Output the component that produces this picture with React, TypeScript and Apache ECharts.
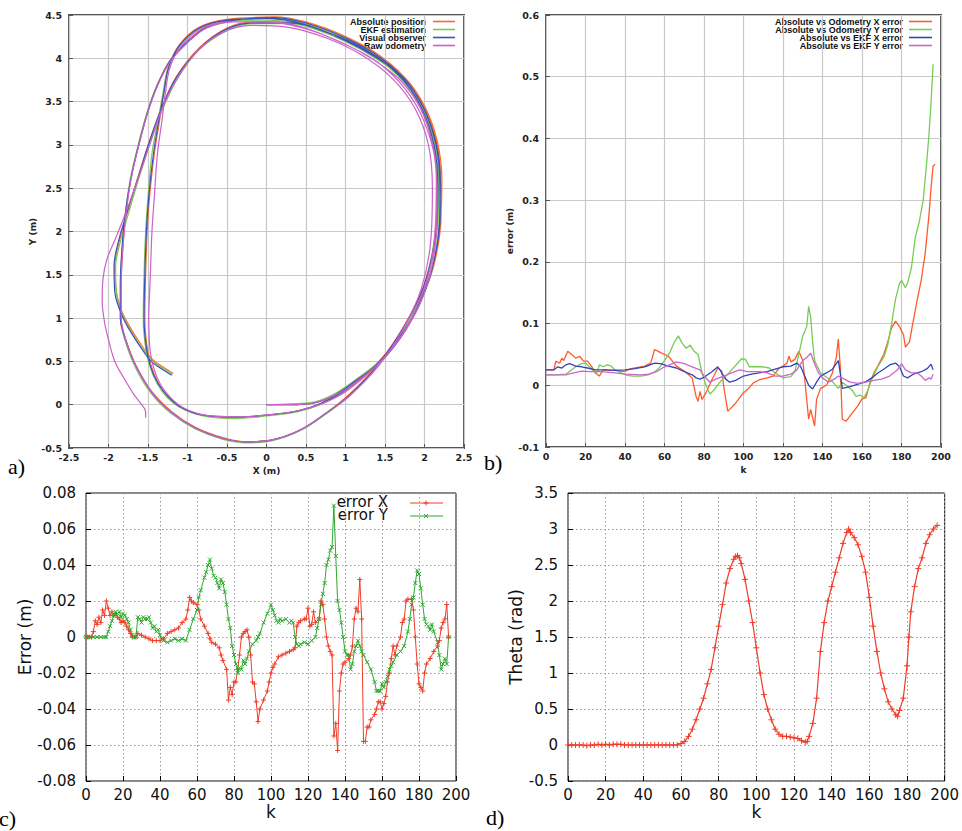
import React, { useEffect, useRef } from "react";
import * as echarts from "echarts";

// ---------- Panel a: trajectories (X, Y in m) ----------
const absolutePosition: number[][] = [
  [0,0],[0.3,0],[0.6,0.02],[0.85,0.1],[1.1,0.26],[1.45,0.5],[1.75,0.85],[1.97,1.25],[2.12,1.65],[2.2,2.1],[2.22,2.6],[2.16,3.05],[2.0,3.45],[1.75,3.78],[1.4,4.02],[1.0,4.22],[0.5,4.4],[0.0,4.47],[-0.5,4.45],[-0.85,4.36],[-1.1,4.16],[-1.24,3.9],[-1.3,3.6],[-1.35,3.3],[-1.42,2.9],[-1.48,2.4],[-1.51,2.0],[-1.53,1.5],[-1.54,1.0],[-1.5,0.6],[-1.42,0.35],[-1.3,0.15],[-1.1,-0.02],[-0.8,-0.12],[-0.4,-0.15],[0.0,-0.12],[0.4,-0.07],[0.7,0.02],
  [1.0,0.18],[1.38,0.46],[1.72,0.84],[1.96,1.22],[2.13,1.65],[2.21,2.2],[2.19,2.8],[2.06,3.3],[1.82,3.7],[1.45,4.02],[1.0,4.25],[0.5,4.42],[0.1,4.48],[-0.4,4.45],[-0.75,4.37],[-1.0,4.2],[-1.22,3.98],[-1.38,3.7],[-1.5,3.4],[-1.62,3.0],[-1.72,2.6],[-1.78,2.2],[-1.82,1.8],[-1.84,1.4],[-1.84,1.0],[-1.78,0.75],[-1.65,0.45],[-1.45,0.15],[-1.2,-0.08],[-0.9,-0.26],[-0.55,-0.38],[-0.25,-0.43],[0.1,-0.4],[0.45,-0.28],[0.75,-0.1],
  [1.05,0.12],[1.42,0.48],[1.76,0.94],[2.0,1.4],[2.14,1.95],[2.18,2.5],[2.13,3.0],[1.96,3.45],[1.68,3.82],[1.28,4.1],[0.8,4.3],[0.3,4.42],[-0.17,4.42],[-0.5,4.35],[-0.84,4.13],[-1.14,3.79],[-1.32,3.45],[-1.48,3.05],[-1.62,2.65],[-1.75,2.25],[-1.86,1.9],[-1.92,1.6],[-1.9,1.3],[-1.84,1.1],[-1.75,0.93],[-1.6,0.71],[-1.44,0.52],[-1.3,0.43],[-1.18,0.36]
];
const ekfEstimation: number[][] = [
  [0,0],[0.3,0.01],[0.6,0.03],[0.85,0.12],[1.1,0.27],[1.45,0.52],[1.75,0.86],[1.96,1.26],[2.1,1.68],[2.17,2.12],[2.18,2.6],[2.12,3.05],[1.97,3.44],[1.72,3.76],[1.38,4.0],[0.98,4.2],[0.48,4.38],[0.0,4.44],[-0.5,4.43],[-0.86,4.34],[-1.1,4.14],[-1.25,3.88],[-1.31,3.6],[-1.37,3.3],[-1.45,2.9],[-1.5,2.4],[-1.53,2.0],[-1.55,1.5],[-1.56,1.0],[-1.52,0.6],[-1.44,0.35],[-1.31,0.14],[-1.1,-0.03],[-0.8,-0.13],[-0.4,-0.16],[0.0,-0.13],[0.4,-0.08],[0.7,0.01],
  [1.0,0.16],[1.4,0.46],[1.72,0.82],[1.96,1.2],[2.12,1.66],[2.19,2.2],[2.17,2.8],[2.04,3.3],[1.8,3.68],[1.43,4.0],[0.98,4.23],[0.48,4.4],[0.08,4.46],[-0.42,4.43],[-0.76,4.35],[-1.01,4.18],[-1.23,3.96],[-1.39,3.68],[-1.51,3.38],[-1.63,2.98],[-1.73,2.58],[-1.79,2.18],[-1.83,1.78],[-1.85,1.38],[-1.85,1.0],[-1.79,0.74],[-1.66,0.43],[-1.46,0.13],[-1.21,-0.1],[-0.9,-0.28],[-0.55,-0.4],[-0.25,-0.44],[0.1,-0.41],[0.45,-0.29],[0.75,-0.11],
  [1.05,0.1],[1.42,0.45],[1.76,0.9],[2.0,1.38],[2.13,1.95],[2.16,2.5],[2.11,3.0],[1.94,3.44],[1.66,3.8],[1.26,4.08],[0.78,4.28],[0.28,4.4],[-0.18,4.4],[-0.5,4.32],[-0.85,4.1],[-1.13,3.76],[-1.31,3.42],[-1.47,3.03],[-1.61,2.63],[-1.74,2.23],[-1.85,1.88],[-1.91,1.6],[-1.9,1.3],[-1.85,1.1],[-1.76,0.92],[-1.61,0.7],[-1.45,0.51],[-1.31,0.42],[-1.19,0.35]
];
const visualObserver: number[][] = [
  [0,0],[0.3,0],[0.6,0.02],[0.86,0.11],[1.12,0.27],[1.46,0.51],[1.76,0.86],[1.97,1.25],[2.12,1.66],[2.19,2.1],[2.2,2.6],[2.14,3.04],[1.98,3.44],[1.74,3.77],[1.39,4.01],[0.99,4.21],[0.49,4.39],[0.0,4.46],[-0.5,4.44],[-0.85,4.35],[-1.1,4.15],[-1.24,3.89],[-1.3,3.6],[-1.36,3.3],[-1.43,2.9],[-1.49,2.4],[-1.52,2.0],[-1.54,1.5],[-1.55,1.0],[-1.51,0.6],[-1.43,0.35],[-1.3,0.15],[-1.1,-0.02],[-0.8,-0.12],[-0.4,-0.14],[0.0,-0.12],[0.4,-0.07],[0.7,0.02],
  [1.0,0.17],[1.39,0.46],[1.73,0.84],[1.96,1.21],[2.12,1.66],[2.2,2.2],[2.18,2.8],[2.05,3.3],[1.81,3.69],[1.44,4.01],[0.99,4.24],[0.49,4.41],[0.09,4.47],[-0.41,4.44],[-0.75,4.36],[-1.0,4.19],[-1.22,3.97],[-1.38,3.69],[-1.5,3.39],[-1.62,2.99],[-1.72,2.59],[-1.79,2.19],[-1.83,1.79],[-1.85,1.39],[-1.85,1.0],[-1.78,0.74],[-1.65,0.44],[-1.45,0.14],[-1.2,-0.09],[-0.9,-0.27],[-0.55,-0.39],[-0.25,-0.43],[0.1,-0.4],[0.45,-0.28],[0.75,-0.1],
  [1.05,0.11],[1.42,0.47],[1.76,0.93],[2.0,1.39],[2.14,1.95],[2.17,2.5],[2.12,3.0],[1.95,3.45],[1.67,3.81],[1.27,4.09],[0.79,4.29],[0.29,4.41],[-0.17,4.41],[-0.5,4.34],[-0.84,4.12],[-1.14,3.78],[-1.32,3.44],[-1.48,3.04],[-1.62,2.64],[-1.76,2.24],[-1.87,1.9],[-1.93,1.6],[-1.92,1.3],[-1.86,1.1],[-1.77,0.92],[-1.62,0.7],[-1.46,0.5],[-1.32,0.41],[-1.2,0.34]
];
const rawOdometry: number[][] = [
  [0,0],[0.3,0],[0.6,0.02],[0.85,0.1],[1.1,0.24],[1.44,0.49],[1.73,0.83],[1.94,1.21],[2.08,1.62],[2.14,2.1],[2.15,2.6],[2.1,3.02],[1.95,3.42],[1.7,3.74],[1.36,3.98],[0.96,4.18],[0.46,4.35],[0.0,4.42],[-0.5,4.42],[-0.85,4.33],[-1.08,4.14],[-1.22,3.9],[-1.28,3.6],[-1.32,3.3],[-1.38,2.9],[-1.42,2.4],[-1.45,2.0],[-1.47,1.5],[-1.49,1.0],[-1.47,0.6],[-1.4,0.35],[-1.28,0.15],[-1.08,-0.02],[-0.78,-0.12],[-0.4,-0.14],[0.0,-0.12],[0.4,-0.07],[0.7,0.01],
  [1.0,0.15],[1.38,0.44],[1.7,0.78],[1.94,1.16],[2.1,1.62],[2.16,2.2],[2.14,2.78],[2.0,3.26],[1.76,3.64],[1.4,3.96],[0.95,4.18],[0.45,4.36],[0.05,4.42],[-0.42,4.42],[-0.76,4.35],[-1.0,4.18],[-1.22,3.96],[-1.38,3.68],[-1.5,3.38],[-1.62,2.98],[-1.72,2.58],[-1.78,2.18],[-1.82,1.78],[-1.84,1.38],[-1.84,1.0],[-1.78,0.74],[-1.65,0.44],[-1.45,0.14],[-1.2,-0.09],[-0.9,-0.27],[-0.55,-0.39],[-0.25,-0.43],[0.1,-0.4],[0.45,-0.28],[0.75,-0.1],
  [1.05,0.1],[1.4,0.43],[1.72,0.86],[1.96,1.34],[2.08,1.9],[2.1,2.5],[2.05,3.0],[1.88,3.42],[1.6,3.76],[1.2,4.04],[0.74,4.24],[0.26,4.36],[-0.2,4.38],[-0.55,4.3],[-0.88,4.08],[-1.15,3.74],[-1.33,3.4],[-1.48,3.0],[-1.63,2.6],[-1.78,2.22],[-1.92,1.9],[-2.02,1.68],[-2.07,1.45],[-2.08,1.2],[-2.05,0.95],[-2.0,0.75],[-1.92,0.5],[-1.8,0.3],[-1.68,0.12],[-1.58,0.0],[-1.53,-0.08],[-1.53,-0.15]
];

// ---------- Panel b: errors vs k ----------
const odoXError: number[][] = [
  [0,0.025],[4,0.025],[5,0.039],[7,0.036],[8,0.044],[9,0.04],[11,0.055],[13,0.05],[15,0.044],[17,0.047],[19,0.039],[21,0.039],[23,0.031],[25,0.02],[27,0.015],[29,0.025],[32,0.024],[35,0.025],[38,0.022],[40,0.023],[43,0.027],[45,0.028],[48,0.03],[50,0.031],[53,0.036],[55,0.058],[58,0.053],[62,0.047],[66,0.031],[70,0.023],[74,0.012],[76,-0.018],[77,-0.026],[78,-0.01],[79,-0.023],[81,-0.012],[84,0.009],[87,0.028],[89,0.023],[90,-0.002],[92,-0.042],[93,-0.039],[96,-0.029],[100,-0.012],[102,-0.007],[105,0.004],[108,0.009],[112,0.012],[115,0.015],[118,0.028],[120,0.031],[122,0.036],[123,0.047],[124,0.038],[126,0.042],[128,0.055],[130,0.04],[131,0.01],[132,-0.023],[133,-0.055],[134,-0.039],[136,-0.066],[137,-0.023],[139,-0.005],[142,0.0],[145,0.02],[147,0.045],[148,0.075],[149,0.03],[150,-0.055],[152,-0.058],[155,-0.045],[158,-0.033],[160,-0.022],[162,-0.02],[164,0.004],[166,0.02],[168,0.031],[171,0.05],[173,0.07],[175,0.093],[177,0.104],[179,0.095],[181,0.082],[182,0.062],[184,0.07],[186,0.105],[188,0.139],[190,0.171],[192,0.214],[194,0.279],[195,0.322],[196,0.355],[197,0.358]
];
const odoYError: number[][] = [
  [0,0.017],[5,0.017],[10,0.018],[13,0.025],[15,0.03],[18,0.035],[20,0.036],[22,0.03],[25,0.02],[26,0.022],[27,0.033],[29,0.03],[31,0.033],[33,0.031],[35,0.025],[38,0.02],[41,0.016],[44,0.015],[48,0.015],[52,0.017],[55,0.022],[57,0.027],[60,0.04],[63,0.055],[65,0.07],[67,0.08],[69,0.068],[71,0.06],[73,0.065],[75,0.055],[77,0.05],[79,0.02],[81,0.0],[83,-0.014],[85,-0.008],[88,0.005],[92,0.018],[96,0.032],[99,0.043],[101,0.042],[103,0.03],[106,0.03],[110,0.03],[113,0.028],[116,0.02],[120,0.012],[124,0.014],[126,0.022],[128,0.05],[130,0.08],[132,0.095],[133,0.128],[134,0.11],[135,0.07],[136,0.04],[139,0.02],[142,0.013],[145,0.006],[148,-0.005],[150,0.005],[152,0.0],[155,-0.008],[157,-0.018],[159,-0.016],[161,-0.02],[163,-0.008],[165,0.01],[168,0.03],[171,0.045],[173,0.065],[175,0.1],[177,0.14],[179,0.165],[180,0.17],[182,0.158],[183,0.165],[185,0.19],[187,0.24],[189,0.265],[191,0.3],[193,0.37],[194,0.41],[195,0.46],[196,0.52]
];
const ekfXError: number[][] = [
  [0,0.025],[4,0.025],[6,0.03],[8,0.028],[10,0.033],[12,0.035],[15,0.031],[18,0.03],[21,0.028],[25,0.025],[30,0.025],[35,0.024],[40,0.025],[45,0.027],[50,0.03],[55,0.036],[58,0.035],[62,0.031],[66,0.028],[70,0.022],[74,0.017],[76,0.012],[78,0.01],[80,0.013],[84,0.022],[87,0.03],[89,0.02],[91,0.01],[93,0.005],[96,0.008],[100,0.015],[104,0.018],[108,0.02],[112,0.022],[116,0.026],[120,0.03],[124,0.031],[127,0.036],[129,0.03],[131,0.015],[133,0.0],[135,-0.006],[137,0.005],[139,0.015],[142,0.02],[145,0.026],[147,0.035],[148,0.04],[149,0.02],[150,-0.005],[154,-0.002],[158,0.002],[162,0.006],[165,0.012],[168,0.02],[171,0.026],[174,0.033],[177,0.036],[179,0.03],[181,0.015],[183,0.012],[186,0.018],[190,0.022],[193,0.027],[195,0.034],[196,0.025]
];
const ekfYError: number[][] = [
  [0,0.017],[10,0.017],[14,0.02],[18,0.023],[22,0.022],[28,0.022],[35,0.02],[40,0.018],[48,0.017],[52,0.018],[56,0.022],[60,0.03],[64,0.035],[66,0.038],[70,0.035],[74,0.03],[78,0.025],[80,0.015],[83,0.005],[86,0.01],[90,0.015],[94,0.02],[98,0.025],[102,0.022],[108,0.022],[112,0.02],[116,0.015],[120,0.015],[124,0.018],[127,0.025],[130,0.04],[132,0.045],[134,0.052],[136,0.035],[138,0.02],[140,0.012],[143,0.005],[146,0.01],[148,0.015],[151,0.01],[154,0.005],[158,0.003],[162,0.005],[166,0.008],[170,0.01],[174,0.015],[178,0.025],[180,0.035],[182,0.025],[185,0.02],[188,0.02],[190,0.015],[192,0.008],[194,0.012],[195,0.01],[196,0.018]
];

// ---------- Panel c: EKF error X / Y vs k ----------
const errorX: number[][] = [
  [0,0],[1,0],[2,0],[3,0],[4,0.003],[5,0.009],[6,0.007],[7,0.011],[8,0.008],[9,0.015],[10,0.012],[11,0.02],[12,0.016],[13,0.012],[14,0.014],[15,0.012],[16,0.013],[17,0.011],[18,0.01],[19,0.008],[20,0.009],[21,0.008],[22,0.006],[23,0.004],[24,0.002],[25,0],[26,0],[27,0],[28,0.002],[30,0.001],[32,0],[34,-0.001],[36,-0.002],[38,-0.002],[40,-0.002],[42,-0.001],[44,0.002],[46,0.003],[48,0.004],[50,0.005],[52,0.008],[54,0.01],[55,0.015],[56,0.022],[57,0.02],[58,0.019],[60,0.018],[61,0.015],[62,0.01],[64,0.006],[66,0.002],[67,-0.001],[68,-0.003],[70,-0.004],[72,-0.006],[73,-0.01],[74,-0.013],[76,-0.018],[77,-0.035],[78,-0.028],[79,-0.032],[80,-0.025],[81,-0.025],[82,-0.018],[83,-0.01],[84,0],[85,0.002],[86,0.003],[87,0.004],[88,0],[89,-0.01],[90,-0.025],[91,-0.026],[92,-0.036],[93,-0.047],[94,-0.04],[96,-0.035],[98,-0.03],[99,-0.025],[100,-0.02],[101,-0.017],[102,-0.015],[104,-0.011],[106,-0.01],[108,-0.009],[110,-0.008],[112,-0.007],[113,-0.006],[114,0.006],[115,0.008],[116,0.009],[118,0.01],[119,0.01],[120,0.016],[121,0.006],[122,0.007],[123,0.014],[124,0.008],[126,0.01],[127,0.02],[128,0.018],[129,0.01],[130,0],[131,-0.005],[132,-0.008],[133,-0.01],[134,-0.055],[135,-0.048],[136,-0.063],[137,-0.03],[138,-0.02],[139,-0.015],[140,-0.014],[142,-0.012],[143,-0.01],[144,-0.005],[145,0.01],[146,0.016],[147,0.014],[148,0.032],[149,0.01],[150,-0.058],[151,-0.058],[152,-0.05],[153,-0.05],[154,-0.046],[156,-0.043],[157,-0.04],[158,-0.036],[159,-0.036],[160,-0.04],[161,-0.037],[162,-0.033],[163,-0.025],[164,-0.02],[165,-0.012],[166,-0.005],[167,-0.01],[168,-0.005],[170,0],[171,0.008],[172,0.01],[173,0.02],[174,0.021],[176,0.021],[177,0.015],[178,0],[179,-0.015],[180,-0.026],[181,-0.028],[182,-0.03],[183,-0.02],[184,-0.015],[186,-0.012],[188,-0.008],[190,-0.005],[191,-0.002],[192,0.005],[193,0.008],[194,0.01],[195,0.018],[196,0]
];
const errorY: number[][] = [
  [0,0],[2,0],[4,0],[6,0],[8,0],[10,0],[11,0],[12,0.003],[13,0.006],[14,0.009],[15,0.012],[16,0.014],[17,0.013],[18,0.014],[19,0.011],[20,0.013],[21,0.012],[22,0.01],[23,0.008],[24,0.004],[25,0.001],[26,0],[27,0],[28,0.011],[29,0.01],[30,0.008],[31,0.011],[32,0.01],[33,0.01],[34,0.011],[35,0.008],[36,0.005],[37,0.006],[38,0.003],[39,0.004],[40,0.001],[41,-0.001],[42,-0.002],[44,-0.003],[46,-0.002],[48,-0.001],[50,-0.002],[52,-0.001],[54,-0.002],[56,0.004],[58,0.01],[60,0.015],[61,0.022],[62,0.026],[64,0.033],[65,0.036],[66,0.04],[67,0.043],[68,0.038],[69,0.034],[70,0.033],[71,0.03],[72,0.027],[73,0.032],[74,0.03],[75,0.025],[76,0.018],[77,0.01],[78,0.005],[79,-0.005],[80,-0.01],[81,-0.015],[82,-0.02],[83,-0.017],[84,-0.018],[85,-0.013],[86,-0.015],[87,-0.012],[88,-0.008],[90,-0.004],[92,-0.002],[93,0],[94,0.002],[96,0.008],[98,0.013],[100,0.018],[101,0.015],[102,0.012],[103,0.009],[104,0.008],[105,0.01],[106,0.009],[108,0.01],[110,0.008],[111,0.009],[112,0.008],[113,0],[114,-0.004],[115,-0.005],[116,-0.004],[118,-0.003],[120,-0.004],[122,-0.002],[124,0],[125,0.005],[126,0.01],[127,0.018],[128,0.024],[129,0.03],[130,0.04],[131,0.043],[132,0.048],[133,0.05],[134,0.073],[135,0.045],[136,0.02],[137,0.015],[138,0.008],[139,0],[140,-0.008],[141,-0.01],[142,-0.01],[143,-0.018],[144,-0.015],[145,-0.008],[146,-0.005],[147,-0.002],[148,-0.005],[149,-0.008],[150,-0.01],[152,-0.014],[154,-0.018],[156,-0.025],[157,-0.03],[158,-0.03],[159,-0.03],[160,-0.026],[161,-0.028],[162,-0.025],[163,-0.022],[164,-0.018],[165,-0.016],[166,-0.014],[168,-0.01],[170,-0.008],[172,-0.005],[174,0.003],[175,0.01],[176,0.018],[177,0.022],[178,0.03],[179,0.037],[180,0.035],[181,0.027],[182,0.018],[183,0.01],[184,0.007],[185,0.006],[186,0.004],[187,0.007],[188,0.003],[190,-0.003],[191,-0.01],[192,-0.018],[193,-0.015],[194,-0.012],[195,-0.015],[196,0]
];

// ---------- Panel d: Theta vs k ----------
const theta: number[][] = [
  [0,0],[2,0],[4,0],[6,0],[8,0],[10,-0.01],[12,0],[14,0],[16,0.01],[18,0],[20,0.01],[22,0],[24,0.01],[26,0.01],[28,0.01],[30,0],[32,0],[34,0],[36,0],[38,0],[40,0],[42,0],[44,0],[46,0],[48,0],[50,0],[52,0],[54,0],[56,0],[58,0],[60,0.02],[62,0.05],[64,0.12],[66,0.22],[68,0.35],[70,0.5],[72,0.65],[74,0.85],[76,1.05],[78,1.35],[80,1.65],[82,1.95],[84,2.25],[86,2.45],[88,2.58],[89,2.62],[90,2.63],[91,2.6],[92,2.52],[94,2.3],[96,2.0],[98,1.7],[100,1.35],[102,1.0],[104,0.7],[106,0.5],[108,0.35],[110,0.22],[112,0.15],[114,0.12],[116,0.12],[118,0.11],[120,0.1],[122,0.09],[124,0.06],[126,0.04],[127,0.05],[128,0.12],[130,0.3],[132,0.65],[134,1.3],[136,1.7],[138,2.0],[140,2.2],[142,2.4],[144,2.6],[146,2.8],[148,2.95],[149,3.0],[150,2.95],[152,2.88],[154,2.78],[156,2.62],[158,2.4],[160,2.05],[162,1.65],[164,1.3],[166,1.0],[168,0.78],[170,0.6],[172,0.5],[174,0.42],[175,0.4],[176,0.48],[178,0.65],[180,1.1],[181,1.5],[182,1.85],[184,2.2],[186,2.45],[188,2.6],[190,2.8],[192,2.92],[194,3.0],[196,3.05]
];

const legendA = ["Absolute position", "EKF estimation", "Visual observer", "Raw odometry"];
const legendB = ["Absolute vs Odometry X error", "Absolute vs Odometry Y error", "Absolute vs EKF X error", "Absolute vs EKF Y error"];
const legendC = ["error X", "error Y"];

const colorsA = ["#ff6a2a", "#7cc850", "#3a50c0", "#cc60cc"];
const colorsB = ["#ff5a2a", "#77cc55", "#3344bb", "#cc66cc"];
const RED = "#f03c28";
const GREEN = "#2fa82f";
const PLUS = "path://M0,5L10,5M5,0L5,10";
const CROSS = "path://M0,0L10,10M10,0L0,10";

const smallFont = "DejaVu Sans";
const bigFont = "DejaVu Sans";

function makeAxis(grid: number, min: number, max: number, interval: number, name: string, gap: number, big: boolean, labelMargin: number) {
  return {
    gridIndex: grid, type: "value", min, max, interval,
    name, nameLocation: "middle", nameGap: gap,
    nameTextStyle: big
      ? { fontSize: 17, color: "#111", fontFamily: bigFont }
      : { fontSize: 9, fontWeight: "bold", color: "#222", fontFamily: smallFont },
    axisLine: { show: false, onZero: false },
    axisTick: { show: true, inside: true, length: big ? 5 : 4, lineStyle: { color: big ? "#000" : "#555" } },
    axisLabel: big
      ? { fontSize: 15, color: "#111", fontFamily: bigFont, margin: labelMargin }
      : { fontSize: 9.5, fontWeight: "bold", color: "#222", fontFamily: smallFont, margin: labelMargin },
    splitLine: big
      ? { show: true, lineStyle: { color: "#9a9a9a", width: 1, type: [1.5, 2.5] } }
      : { show: true, lineStyle: { color: "#c8c8c8", width: 1.2 } },
  };
}

export default function App() {
  const ref = useRef<HTMLDivElement>(null);
  useEffect(() => {
    const chart = echarts.init(ref.current!, null, { renderer: "svg" });

    const xA = makeAxis(0, -2.5, 2.5, 0.5, "X (m)", 13, false, 4);
    const yA = makeAxis(0, -0.5, 4.5, 0.5, "Y (m)", 26, false, 7);
    const xB = makeAxis(1, 0, 200, 20, "k", 13, false, 4);
    const yB = makeAxis(1, -0.1, 0.6, 0.1, "error (m)", 26, false, 7);
    const xC = makeAxis(2, 0, 200, 20, "k", 22, true, 6);
    const yC = makeAxis(2, -0.08, 0.08, 0.02, "Error (m)", 50, true, 10);
    const xD = makeAxis(3, 0, 200, 20, "k", 22, true, 6);
    const yD = makeAxis(3, -0.5, 3.5, 0.5, "Theta (rad)", 43, true, 10);

    const trajSeries = [absolutePosition, ekfEstimation, visualObserver, rawOdometry].map((d, i) => ({
      name: legendA[i], type: "line", xAxisIndex: 0, yAxisIndex: 0, data: d,
      symbol: "none", smooth: 0.35, lineStyle: { color: colorsA[i], width: 1.2 }, itemStyle: { color: colorsA[i] },
    }));
    const errSeries = [odoXError, odoYError, ekfXError, ekfYError].map((d, i) => ({
      name: legendB[i], type: "line", xAxisIndex: 1, yAxisIndex: 1, data: d,
      symbol: "none", lineStyle: { color: colorsB[i], width: 1.3 }, itemStyle: { color: colorsB[i] },
    }));

    const legendGraphics: any[] = [];
    const rowsY = [21.5, 29.5, 37.5, 45.5];
    legendA.forEach((t, i) => {
      legendGraphics.push({ type: "text", x: 426, y: rowsY[i], style: { text: t, fill: "#111", font: "bold 9px 'Liberation Sans'", align: "right", verticalAlign: "middle" } });
      legendGraphics.push({ type: "line", shape: { x1: 433, y1: rowsY[i], x2: 455, y2: rowsY[i] }, style: { stroke: colorsA[i], lineWidth: 1.6 } });
    });
    legendB.forEach((t, i) => {
      legendGraphics.push({ type: "text", x: 903, y: rowsY[i], style: { text: t, fill: "#111", font: "bold 9px 'Liberation Sans'", align: "right", verticalAlign: "middle" } });
      legendGraphics.push({ type: "line", shape: { x1: 909, y1: rowsY[i], x2: 932, y2: rowsY[i] }, style: { stroke: colorsB[i], lineWidth: 1.6 } });
    });
    const rowsC = [502, 515];
    legendC.forEach((t, i) => {
      legendGraphics.push({ type: "text", x: 388, y: rowsC[i], style: { text: t, fill: "#111", font: "15px 'DejaVu Sans'", align: "right", verticalAlign: "middle" } });
      const c = i === 0 ? RED : GREEN;
      const y = rowsC[i] + 1;
      legendGraphics.push({ type: "line", shape: { x1: 410, y1: y, x2: 443, y2: y }, style: { stroke: c, lineWidth: 1 } });
      if (i === 0) {
        legendGraphics.push({ type: "line", shape: { x1: 423.5, y1: y, x2: 428.5, y2: y }, style: { stroke: c, lineWidth: 1 } });
        legendGraphics.push({ type: "line", shape: { x1: 426, y1: y - 2.5, x2: 426, y2: y + 2.5 }, style: { stroke: c, lineWidth: 1 } });
      } else {
        legendGraphics.push({ type: "line", shape: { x1: 424, y1: y - 2, x2: 428, y2: y + 2 }, style: { stroke: c, lineWidth: 1 } });
        legendGraphics.push({ type: "line", shape: { x1: 428, y1: y - 2, x2: 424, y2: y + 2 }, style: { stroke: c, lineWidth: 1 } });
      }
    });

    const panelLabel = (text: string, x: number, y: number) => ({
      type: "text", x, y, style: { text, fill: "#000", font: "22px 'Liberation Serif'", align: "left", verticalAlign: "middle" },
    });

    chart.setOption({
      animation: false,
      backgroundColor: "#ffffff",
      grid: [
        { left: 69, top: 15, width: 395, height: 433, show: true, borderColor: "#555", borderWidth: 2, backgroundColor: "transparent" },
        { left: 546, top: 15, width: 395, height: 432, show: true, borderColor: "#555", borderWidth: 2, backgroundColor: "transparent" },
        { left: 86, top: 493, width: 370, height: 288, show: true, borderColor: "#111", borderWidth: 1, backgroundColor: "transparent" },
        { left: 568, top: 493, width: 378, height: 288, show: true, borderColor: "#111", borderWidth: 1, backgroundColor: "transparent" },
      ],
      xAxis: [xA, xB, xC, xD],
      yAxis: [yA, yB, yC, yD],
      series: [
        ...trajSeries,
        ...errSeries,
        {
          name: legendC[0], type: "line", xAxisIndex: 2, yAxisIndex: 2, data: errorX,
          symbol: PLUS, symbolSize: 5, showSymbol: true,
          lineStyle: { color: RED, width: 1 }, itemStyle: { color: RED, borderColor: RED, borderWidth: 1 },
        },
        {
          name: legendC[1], type: "line", xAxisIndex: 2, yAxisIndex: 2, data: errorY,
          symbol: CROSS, symbolSize: 4, showSymbol: true,
          lineStyle: { color: GREEN, width: 1 }, itemStyle: { color: GREEN, borderColor: GREEN, borderWidth: 1 },
        },
        {
          name: "theta", type: "line", xAxisIndex: 3, yAxisIndex: 3, data: theta,
          symbol: PLUS, symbolSize: 6, showSymbol: true,
          lineStyle: { color: RED, width: 1.2 }, itemStyle: { color: RED, borderColor: RED, borderWidth: 1 },
        },
      ],
      graphic: [
        ...legendGraphics,
        panelLabel("a)", 8, 466),
        panelLabel("b)", 484, 462),
        panelLabel("c)", -1, 818),
        panelLabel("d)", 486, 817),
      ],
    });
    return () => chart.dispose();
  }, []);
  return <div ref={ref} style={{ position: "absolute", left: 0, top: 0, width: 962, height: 831, background: "#fff" }} />;
}
